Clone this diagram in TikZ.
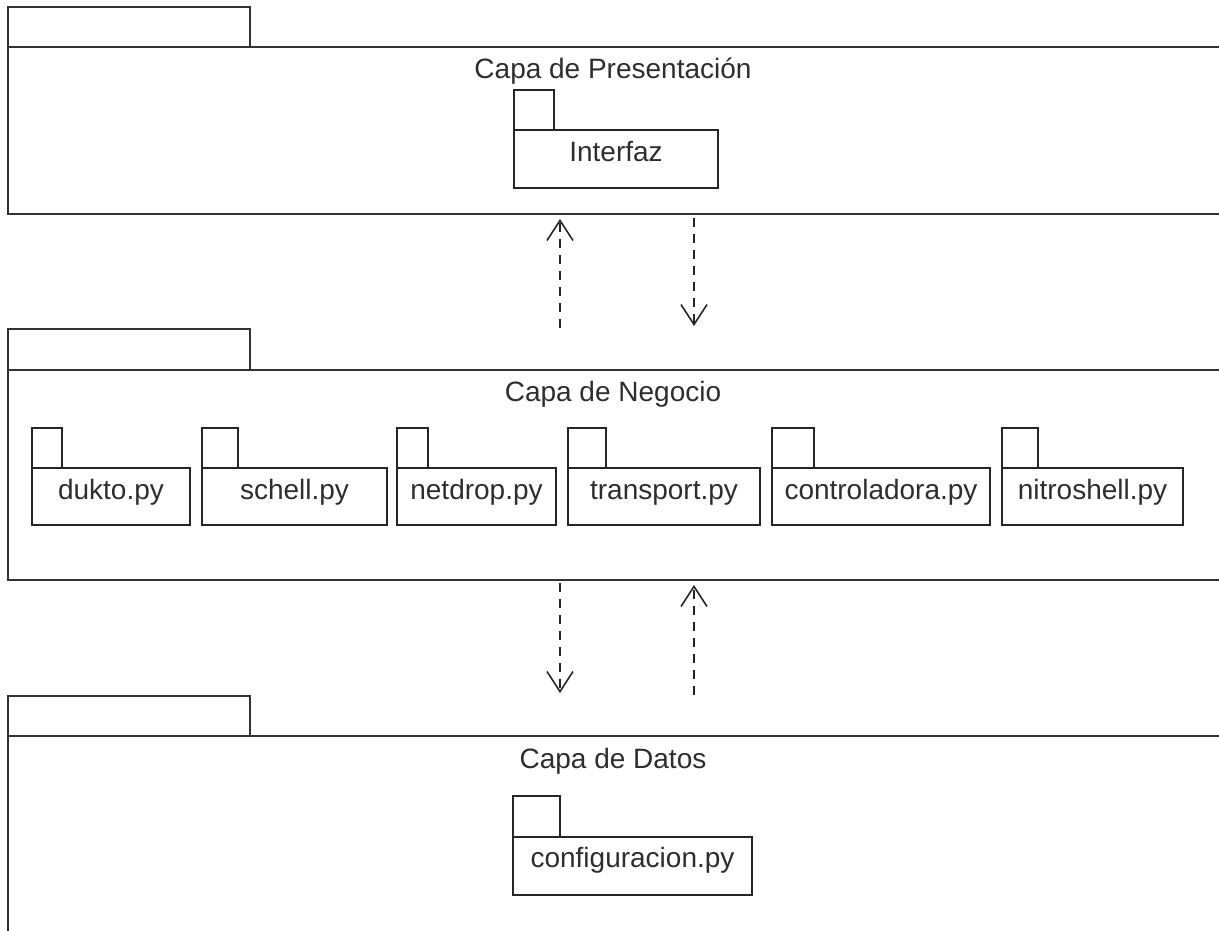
\documentclass[tikz,border=0pt]{standalone}
\usepackage{fontspec}
\setmainfont{Liberation Sans}
\usetikzlibrary{arrows.meta,calc}
\begin{document}
\begin{tikzpicture}[x=1pt,y=-1pt,
  bigline/.style={draw=black!80, line width=2.2pt},
  smallline/.style={draw=black!85, line width=1.5pt},
  box/.style={rectangle, inner sep=0pt, outer sep=0pt, anchor=north west},
  lbl/.style={font=\fontsize{28}{32}\selectfont, text=black!82, anchor=base, inner sep=0pt},
  dep/.style={draw=black!85, line width=1.6pt, dash pattern=on 9pt off 7pt,
    -{Straight Barb[length=20pt,width=26pt,line width=1.6pt]}}
]
\useasboundingbox (0,0) rectangle (1219,930);
\clip (0,0) rectangle (1219,930);

% Capa de Presentacion
\node[box, bigline, minimum width=242pt, minimum height=40pt] (presTab) at (8,7) {};
\node[box, bigline, minimum width=1214pt, minimum height=167pt] (presBody) at (8,47) {};
\node[lbl] (presLbl) at (613,78) {Capa de Presentación};
\node[box, smallline, minimum width=40pt, minimum height=40pt] (interfazTab) at (514,90) {};
\node[box, smallline, minimum width=204pt, minimum height=58pt] (interfaz) at (514,130) {};
\node[lbl] (interfazLbl) at ($(interfaz.north)+(0,31)$) {Interfaz};

% Capa de Negocio
\node[box, bigline, minimum width=242pt, minimum height=41pt] (negTab) at (8,329) {};
\node[box, bigline, minimum width=1214pt, minimum height=210pt] (negBody) at (8,370) {};
\node[lbl] (negLbl) at (613,401) {Capa de Negocio};

\node[box, smallline, minimum width=30pt, minimum height=40pt] (duktoTab) at (32,428) {};
\node[box, smallline, minimum width=158pt, minimum height=57pt] (dukto) at (32,468) {};
\node[lbl] (duktoLbl) at ($(dukto.north)+(0,31)$) {dukto.py};

\node[box, smallline, minimum width=36pt, minimum height=40pt] (schellTab) at (202,428) {};
\node[box, smallline, minimum width=185pt, minimum height=57pt] (schell) at (202,468) {};
\node[lbl] (schellLbl) at ($(schell.north)+(0,31)$) {schell.py};

\node[box, smallline, minimum width=31pt, minimum height=40pt] (netdropTab) at (397,428) {};
\node[box, smallline, minimum width=159pt, minimum height=57pt] (netdrop) at (397,468) {};
\node[lbl] (netdropLbl) at ($(netdrop.north)+(0,31)$) {netdrop.py};

\node[box, smallline, minimum width=38pt, minimum height=40pt] (transportTab) at (568,428) {};
\node[box, smallline, minimum width=192pt, minimum height=57pt] (transport) at (568,468) {};
\node[lbl] (transportLbl) at ($(transport.north)+(0,31)$) {transport.py};

\node[box, smallline, minimum width=42pt, minimum height=40pt] (controlTab) at (772,428) {};
\node[box, smallline, minimum width=218pt, minimum height=57pt] (control) at (772,468) {};
\node[lbl] (controlLbl) at ($(control.north)+(0,31)$) {controladora.py};

\node[box, smallline, minimum width=36pt, minimum height=40pt] (nitroTab) at (1002,428) {};
\node[box, smallline, minimum width=181pt, minimum height=57pt] (nitro) at (1002,468) {};
\node[lbl] (nitroLbl) at ($(nitro.north)+(0,31)$) {nitroshell.py};

% Capa de Datos
\node[box, bigline, minimum width=242pt, minimum height=40pt] (datTab) at (8,696) {};
\node[box, bigline, minimum width=1214pt, minimum height=300pt] (datBody) at (8,736) {};
\node[lbl] (datLbl) at (613,768) {Capa de Datos};
\node[box, smallline, minimum width=47pt, minimum height=41pt] (confTab) at (513,796) {};
\node[box, smallline, minimum width=239pt, minimum height=58pt] (conf) at (513,837) {};
\node[lbl] (confLbl) at ($(conf.north)+(0,30)$) {configuracion.py};

% dependencies
\coordinate (xa) at (560,0);
\coordinate (xb) at (694,0);
\draw[dep, shorten <=1pt, shorten >=5pt] (negTab.north -| xa) -- (presBody.south -| xa);
\draw[dep, shorten <=4pt, shorten >=3pt] (presBody.south -| xb) -- (negTab.north -| xb);
\draw[dep, shorten <=3pt, shorten >=3pt] (negBody.south -| xa) -- (datTab.north -| xa);
\draw[dep, shorten <=1pt, shorten >=5pt] (datTab.north -| xb) -- (negBody.south -| xb);
\end{tikzpicture}
\end{document}
